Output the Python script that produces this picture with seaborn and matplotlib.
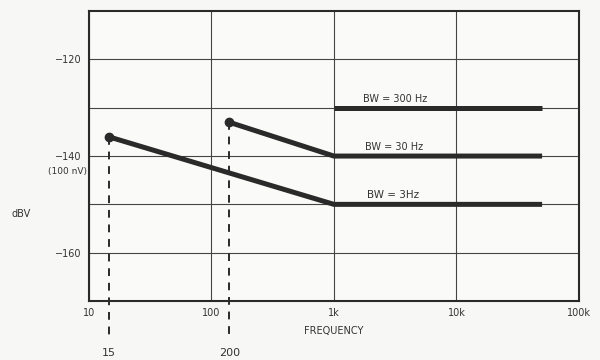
import numpy as np
import pandas as pd
import seaborn as sns
import matplotlib.pyplot as plt

# noise floor curves (frequency in Hz, level in dBV)
bw3_freq = [14.5, 1000, 50000]
bw3_level = [-136, -150, -150]
bw30_freq = [140, 1000, 50000]
bw30_level = [-133, -140, -140]
bw300_freq = [1000, 50000]
bw300_level = [-130, -130]

labels = ["BW = 3Hz", "BW = 30 Hz", "BW = 300 Hz"]
x_ticks = [10, 100, 1000, 10000, 100000]
x_tick_labels = ["10", "100", "1k", "10k", "100k"]
y_ticks = [-120, -140, -160]
start_labels = ["15", "200"]

sns.set_theme(style="white")
plt.rcParams['font.family'] = ['DejaVu Sans']

ink = "#333333"
fig = plt.figure(figsize=(6, 3.6), dpi=100, facecolor="#f7f7f5")
ax = fig.add_axes([0.148, 0.164, 0.817, 0.805])
ax.set_facecolor("#fafaf8")

series = [(bw3_freq, bw3_level), (bw30_freq, bw30_level), (bw300_freq, bw300_level)]
for (f, lv), lab in zip(series, labels):
    df = pd.DataFrame({"freq": f, "dbv": lv})
    sns.lineplot(data=df, x="freq", y="dbv", ax=ax, color="#2a2a2a", linewidth=3.6,
                 solid_capstyle="butt", zorder=4)

# start dots + dashed drop lines
for (f, lv), txt in zip(series[:2], start_labels):
    ax.plot(f[0], lv[0], "o", color="#2a2a2a", markersize=6, zorder=5)
    ax.plot([f[0], f[0]], [lv[0], -178], color="#2a2a2a", lw=1.4,
            ls=(0, (4, 3.5)), clip_on=False, zorder=3)
    ax.text(f[0], -180.8, txt, ha="center", va="center", fontsize=8, color=ink)

ax.set_xscale("log")
ax.set_xlim(10, 100000)
ax.set_ylim(-170, -110)
ax.set_xticks(x_ticks)
ax.set_xticklabels(x_tick_labels)
ax.minorticks_off()
ax.set_yticks(y_ticks)
ax.set_yticklabels(["\u2212120", "\u2212140", "\u2212160"])
ax.set_yticks([-130, -150], minor=True)
ax.tick_params(axis="both", which="both", length=0, labelsize=7, labelcolor=ink, pad=5)
ax.grid(True, which="both", color="#444444", lw=0.8)
for s in ax.spines.values():
    s.set_color("#2a2a2a")
    s.set_linewidth(1.5)

ax.set_xlabel("FREQUENCY", fontsize=7, color=ink, labelpad=6)
ax.set_ylabel("")
ax.text(-0.157, 0.30, "dBV", transform=ax.transAxes, fontsize=7, color=ink, ha="left", va="center")
ax.text(-0.004, -143.1, "(100 nV)", transform=ax.get_yaxis_transform(), fontsize=6.5,
        color=ink, ha="right", va="center")

ax.text(3160, -128.1, labels[2], fontsize=7, color=ink, ha="center", va="center")
ax.text(3100, -138.1, labels[1], fontsize=7, color=ink, ha="center", va="center")
ax.text(3050, -148.1, labels[0], fontsize=7.5, color=ink, ha="center", va="center")

fig.savefig("out.png", dpi=100, facecolor=fig.get_facecolor())
